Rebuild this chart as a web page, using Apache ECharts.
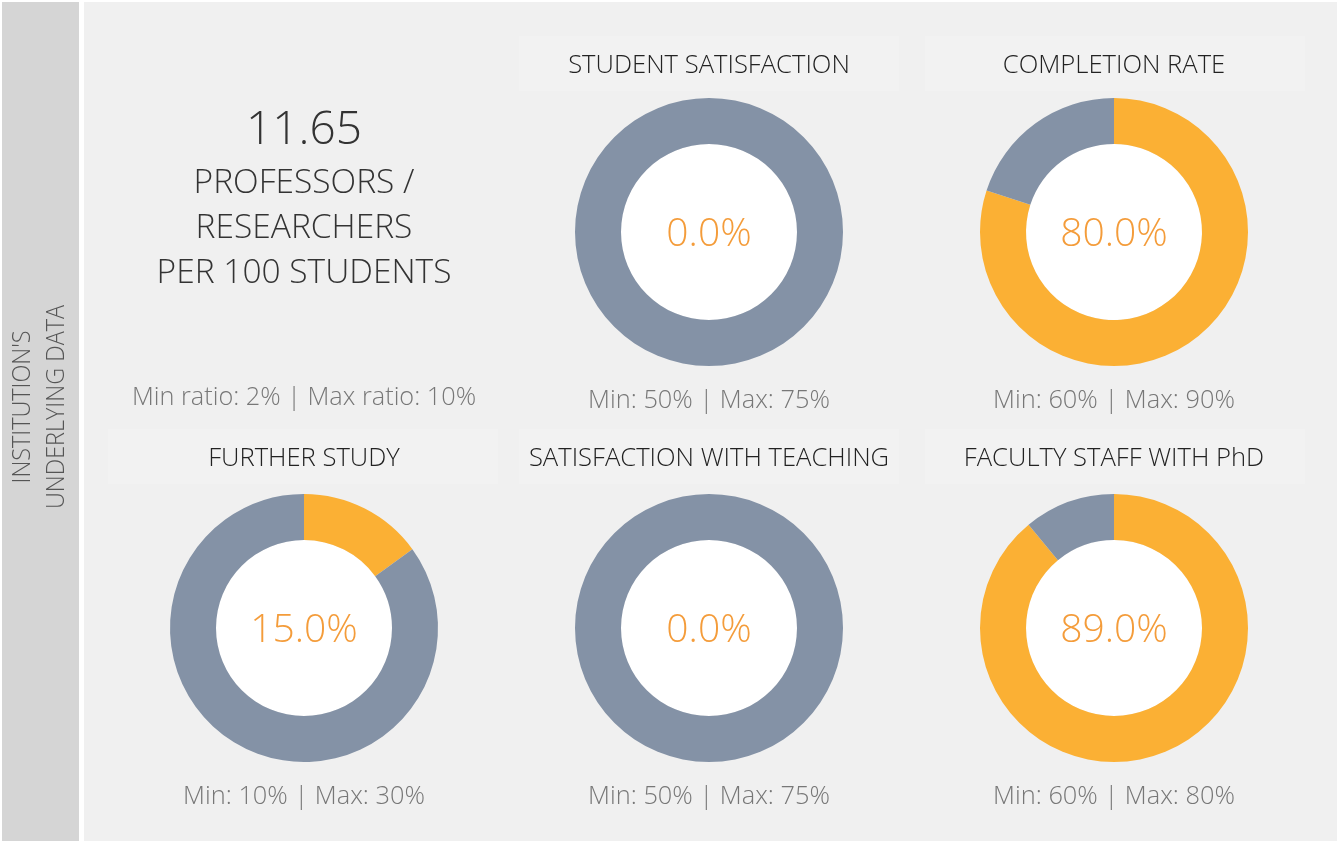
<!DOCTYPE html>
<html>
<head>
<meta charset="utf-8">
<script src="https://cdn.jsdelivr.net/npm/echarts@6/dist/echarts.min.js"></script>
<style>
  html, body { margin: 0; padding: 0; background: #fff; }
  #main { width: 1337px; height: 841px; }
</style>
</head>
<body>
<div id="main"></div>
<script>
// data
const sideLabel = ["INSTITUTION'S", 'UNDERLYING DATA'];
const ratioValue = 11.65;
const ratioLines = ['PROFESSORS /', 'RESEARCHERS', 'PER 100 STUDENTS'];
const ratioMin = 2;
const ratioMax = 10;

const titles = ['STUDENT SATISFACTION', 'COMPLETION RATE', 'FURTHER STUDY', 'SATISFACTION WITH TEACHING', 'FACULTY STAFF WITH PhD'];
const values = [0, 80, 15, 0, 89];
const mins = [50, 60, 10, 50, 60];
const maxs = [75, 90, 30, 75, 80];

// layout
const centersX = [709, 1114, 304, 709, 1114];
const centersY = [232, 232, 628, 628, 628];
const boxX = [519, 925, 108, 519, 925];
const boxY = [36, 36, 429, 429, 429];

const font = "'Open Sans', sans-serif";
const orange = '#fbb034';
const grey = '#8492a6';

let chartDom = document.getElementById('main');
let myChart = echarts.init(chartDom, null, { renderer: 'canvas' });

let graphics = [
    { type: 'rect', shape: { x: 2, y: 2, width: 77, height: 839 }, style: { fill: '#d5d5d5' }, silent: true },
    { type: 'rect', shape: { x: 84, y: 2, width: 1253, height: 839 }, style: { fill: '#f0f0f0' }, silent: true }
];

// rotated side label
sideLabel.forEach((t, i) => {
    graphics.push({
        type: 'text', x: 23 + i * 34, y: 407, rotation: Math.PI / 2, scaleX: 0.9, silent: true,
        style: { text: t, font: `300 26px ${font}`, fill: '#555', align: 'center', verticalAlign: 'middle' }
    });
});

// ratio panel
graphics.push({
    type: 'text', x: 304, y: 131, silent: true,
    style: { text: ratioValue.toFixed(2), font: `300 46px ${font}`, fill: '#333', align: 'center', verticalAlign: 'middle' }
});
ratioLines.forEach((t, i) => {
    graphics.push({
        type: 'text', x: 304, y: 183 + i * 45, silent: true,
        style: { text: t, font: `300 33.5px ${font}`, fill: '#333', align: 'center', verticalAlign: 'middle' }
    });
});
graphics.push({
    type: 'text', x: 304, y: 398, silent: true,
    style: { text: `Min ratio: ${ratioMin}% | Max ratio: ${ratioMax}%`, font: `300 25.3px ${font}`, fill: '#777', align: 'center', verticalAlign: 'middle' }
});

let series = [];
titles.forEach((title, i) => {
    graphics.push({
        type: 'rect', shape: { x: boxX[i], y: boxY[i], width: i === 2 ? 390 : 380, height: 55 }, style: { fill: '#f2f2f2' }, silent: true
    });
    graphics.push({
        type: 'text', x: (i === 2 ? 304 : centersX[i]), y: boxY[i] + 29.5, silent: true,
        style: { text: title, font: `300 25.6px ${font}`, fill: '#222', align: 'center', verticalAlign: 'middle' }
    });
    graphics.push({
        type: 'text', x: centersX[i], y: centersY[i] + 169, silent: true,
        style: { text: `Min: ${mins[i]}% | Max: ${maxs[i]}%`, font: `300 25.4px ${font}`, fill: '#777', align: 'center', verticalAlign: 'middle' }
    });

    series.push({
        type: 'pie',
        center: [centersX[i], centersY[i]],
        radius: [88, 134],
        startAngle: 90,
        clockwise: true,
        silent: true,
        animation: false,
        label: { show: false },
        labelLine: { show: false },
        itemStyle: { borderWidth: 0 },
        data: [
            { value: values[i], itemStyle: { color: orange } },
            { value: 100 - values[i], itemStyle: { color: grey } }
        ]
    });
    series.push({
        type: 'pie',
        center: [centersX[i], centersY[i] + 3],
        radius: [0, 88],
        silent: true,
        animation: false,
        labelLine: { show: false },
        itemStyle: { borderWidth: 0, color: 'rgba(0,0,0,0)' },
        label: {
            show: true, position: 'center',
            formatter: () => values[i].toFixed(1) + '%',
            fontFamily: font, fontWeight: 300, fontSize: 39, color: '#f49c3a'
        },
        data: [{ value: 1 }]
    });
    series.push({
        type: 'pie',
        center: [centersX[i], centersY[i]],
        radius: [0, 88],
        silent: true,
        animation: false,
        z: 1,
        label: { show: false },
        labelLine: { show: false },
        itemStyle: { borderWidth: 0, color: '#fff' },
        data: [{ value: 1 }]
    });
});

let option = {
    backgroundColor: '#fff',
    animation: false,
    graphic: { elements: graphics },
    series: series
};
option && myChart.setOption(option);
</script>
</body>
</html>
